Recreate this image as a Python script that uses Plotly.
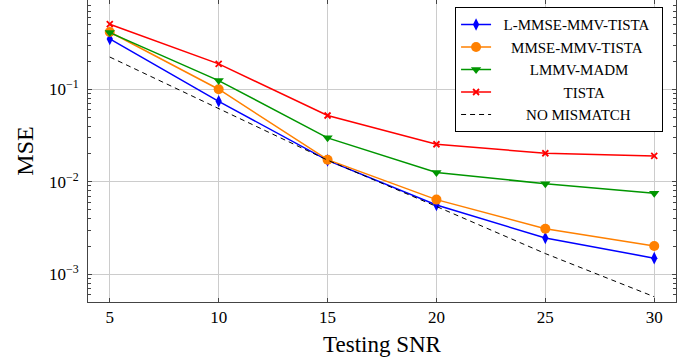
import numpy as np
import plotly.graph_objects as go

snr = [5, 10, 15, 20, 25, 30]
l_mmse_mmv_tista = [0.35, 0.074, 0.0170, 0.0056, 0.00246, 0.00149]
mmse_mmv_tista = [0.416, 0.100, 0.0173, 0.0064, 0.0031, 0.00202]
lmmv_madm = [0.41, 0.124, 0.0298, 0.0126, 0.0095, 0.0075]
tista = [0.505, 0.188, 0.052, 0.0254, 0.0203, 0.019]
no_mismatch = [0.223, 0.062, 0.0171, 0.0054, 0.00167, 0.00057]

names = ["L-MMSE-MMV-TISTA", "MMSE-MMV-TISTA", "LMMV-MADM", "TISTA", "NO MISMATCH"]
name_pad = [2, 4, 9, 18, 8]  # non-breaking spaces to centre legend texts
xtick_vals = [5, 10, 15, 20, 25, 30]
ytick_vals = [1e-3, 1e-2, 1e-1]
ytick_text = ["10<sup>\u22123</sup>", "10<sup>\u22122</sup>", "10<sup>\u22121</sup>"]
yminor_vals = [m * 10.0 ** e for e in (-4, -3, -2, -1) for m in range(2, 10)]

FONT = "Liberation Serif"


def label(i):
    s = "\u00a0" * name_pad[i] + names[i]
    if i == 0:
        s += "\u00a0\u00a0"
    return s


fig = go.Figure()
fig.add_trace(go.Scatter(x=snr, y=l_mmse_mmv_tista, name=label(0), mode="lines+markers",
                         line=dict(color="#0000ff", width=1.5),
                         marker=dict(symbol="diamond-tall", size=9, color="#0000ff")))
fig.add_trace(go.Scatter(x=snr, y=mmse_mmv_tista, name=label(1), mode="lines+markers",
                         line=dict(color="#ff8000", width=1.5),
                         marker=dict(symbol="circle", size=10, color="#ff8000")))
fig.add_trace(go.Scatter(x=snr, y=lmmv_madm, name=label(2), mode="lines+markers",
                         line=dict(color="#009600", width=1.5),
                         marker=dict(symbol="triangle-down", size=9, color="#009600")))
fig.add_trace(go.Scatter(x=snr, y=tista, name=label(3), mode="lines+markers",
                         line=dict(color="#ff0000", width=1.5),
                         marker=dict(symbol="x-thin", size=6, line=dict(color="#ff0000", width=1.8))))
fig.add_trace(go.Scatter(x=snr, y=no_mismatch, name=label(4), mode="lines",
                         line=dict(color="#000000", width=1, dash="5px,4px")))

fig.update_layout(
    width=697, height=362,
    margin=dict(l=88, r=21, t=0, b=60, autoexpand=False),
    paper_bgcolor="white", plot_bgcolor="white",
    font=dict(family=FONT, size=17, color="black"),
    showlegend=True,
    legend=dict(x=0.978, y=0.976, xanchor="right", yanchor="top",
                bgcolor="white", bordercolor="black", borderwidth=1,
                font=dict(family=FONT, size=15, color="black"), tracegroupgap=0,
                itemwidth=30),
)
fig.update_xaxes(
    range=[4, 31], tickvals=xtick_vals, ticks="inside", ticklen=4, automargin=False,
    showline=True, linecolor="#444", linewidth=1, mirror="ticks",
    showgrid=True, gridcolor="#cccccc", gridwidth=1, zeroline=False,
    tickfont=dict(family=FONT, size=17), ticklabelstandoff=0,
    title=dict(text="Testing SNR", font=dict(family=FONT, size=23), standoff=9),
)
fig.update_yaxes(
    type="log", range=[np.log10(5e-4), -0.035], tickvals=ytick_vals, ticktext=ytick_text,
    ticks="inside", ticklen=4, automargin=False,
    showline=True, linecolor="#444", linewidth=1, mirror="ticks",
    showgrid=True, gridcolor="#cccccc", gridwidth=1, zeroline=False,
    minor=dict(tickmode="array", tickvals=yminor_vals, ticks="inside", ticklen=3,
               tickcolor="#444", showgrid=False),
    tickfont=dict(family=FONT, size=17), ticklabelstandoff=5,
    title=dict(text="MSE", font=dict(family=FONT, size=24), standoff=8),
)
fig.write_html("out.html", config={"displayModeBar": False},
               post_script="document.body.style.margin='0';document.body.style.overflow='hidden';")
